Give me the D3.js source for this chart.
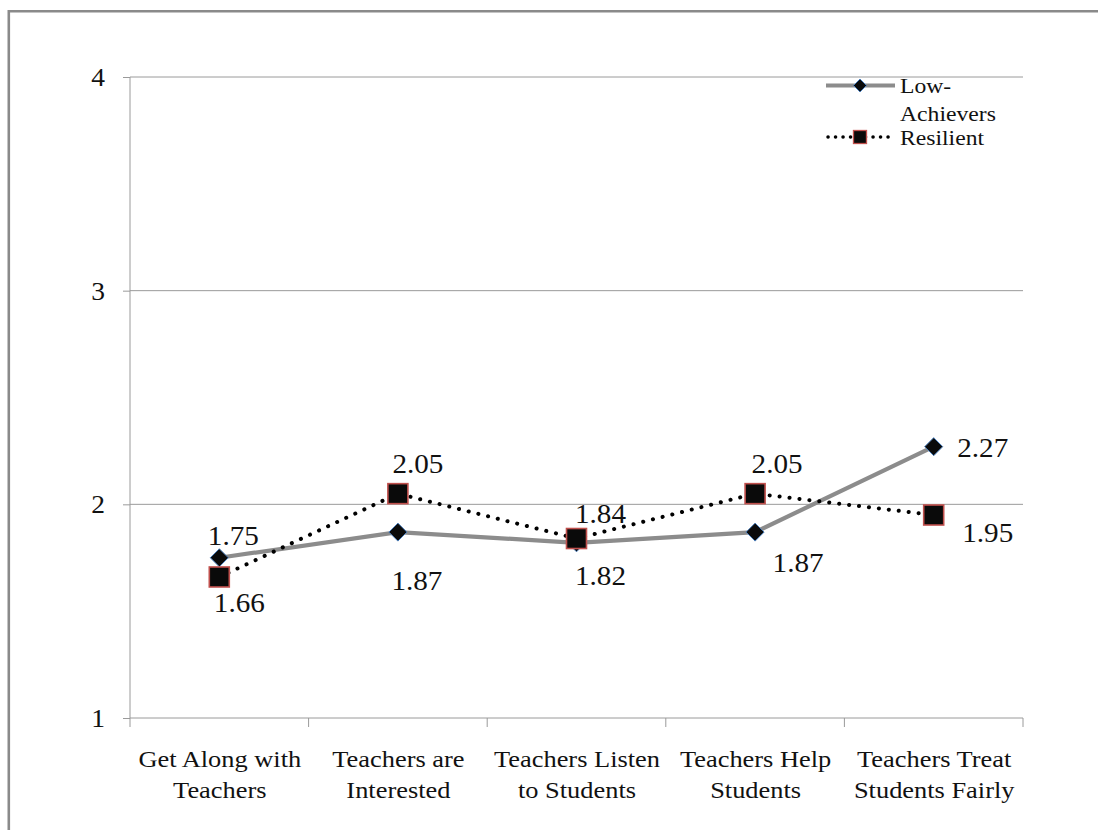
<!DOCTYPE html>
<html>
<head>
<meta charset="utf-8">
<script src="https://cdn.jsdelivr.net/npm/d3@7"></script>
<style>
  html, body { margin: 0; padding: 0; background: #fff; }
  svg { display: block; }
  text { font-family: "Liberation Serif", "Times New Roman", serif; fill: #111; }
</style>
</head>
<body>
<svg id="chart" width="1098" height="830"></svg>
<script>
// ---- data ----
const categories = [
  ["Get Along with", "Teachers"],
  ["Teachers are", "Interested"],
  ["Teachers Listen", "to Students"],
  ["Teachers Help", "Students"],
  ["Teachers Treat", "Students Fairly"]
];
const lowAchievers = [1.75, 1.87, 1.82, 1.87, 2.27];
const resilient = [1.66, 2.05, 1.84, 2.05, 1.95];
const yTicks = [1, 2, 3, 4];
const seriesNames = ["Low-Achievers", "Resilient"];

// ---- layout ----
const svg = d3.select("#chart");
const plot = { left: 130, right: 1023, top: 77, bottom: 718 };
const stretch = 1.1; // horizontal glyph stretch used for all text

// label placement relative to each marker [dx, dy]
const lowLabelOffset = [[14, -13], [19, 58], [24, 42], [43, 40], [49, 10]];
const resLabelOffset = [[20, 35], [20, -21], [24, -16], [22, -21], [54, 27]];

const x = d3.scalePoint()
  .domain(d3.range(categories.length))
  .range([plot.left, plot.right])
  .padding(0.5);
const band = (plot.right - plot.left) / categories.length;
const y = d3.scaleLinear().domain([1, 4]).range([plot.bottom, plot.top]);

// text helper: place text at (px, py) with a horizontal stretch
function label(parent, px, py, str, size, anchor) {
  return parent.append("text")
    .attr("transform", `translate(${px},${py}) scale(${stretch},1)`)
    .attr("text-anchor", anchor || "start")
    .attr("font-size", size)
    .text(str);
}

// outer frame (top and left edges)
svg.append("path")
  .attr("d", `M8.8,830 L8.8,11.3 L1098,11.3`)
  .attr("fill", "none")
  .attr("stroke", "#8a8a8a")
  .attr("stroke-width", 2.6);

// horizontal gridlines
svg.append("g")
  .selectAll("line")
  .data(yTicks.filter(d => d > 1))
  .join("line")
  .attr("x1", plot.left).attr("x2", plot.right)
  .attr("y1", d => y(d)).attr("y2", d => y(d))
  .attr("stroke", "#9a9a9a").attr("stroke-width", 1);

// y axis
const yAxis = d3.axisLeft(y).tickValues(yTicks).tickSize(7).tickFormat(() => "");
const gy = svg.append("g").attr("transform", `translate(${plot.left},0)`).call(yAxis);
gy.select(".domain").attr("stroke", "#9a9a9a").attr("d", `M0,${plot.bottom}V${plot.top}`);
gy.selectAll(".tick line").attr("stroke", "#9a9a9a");
const yLab = svg.append("g");
yTicks.forEach(t => label(yLab, 105, y(t) + 9, d3.format("d")(t), 25, "end"));

// x axis baseline with ticks at category boundaries
const bounds = d3.range(categories.length + 1).map(i => plot.left + i * band);
svg.append("line")
  .attr("x1", plot.left).attr("x2", plot.right)
  .attr("y1", plot.bottom).attr("y2", plot.bottom)
  .attr("stroke", "#9a9a9a");
svg.append("g").selectAll("line")
  .data(bounds)
  .join("line")
  .attr("x1", d => d).attr("x2", d => d)
  .attr("y1", plot.bottom).attr("y2", plot.bottom + 9)
  .attr("stroke", "#9a9a9a");

// category labels
const catG = svg.append("g");
categories.forEach((lines, i) => {
  lines.forEach((s, k) => label(catG, x(i) + 0.5, 767 + k * 31, s, 24, "middle"));
});

// series lines
const line = d3.line().x((d, i) => x(i)).y(d => y(d));

svg.append("path")
  .datum(lowAchievers)
  .attr("d", line)
  .attr("fill", "none")
  .attr("stroke", "#8c8c8c")
  .attr("stroke-width", 4.2);

svg.append("path")
  .datum(resilient)
  .attr("d", line)
  .attr("fill", "none")
  .attr("stroke", "#000")
  .attr("stroke-width", 4)
  .attr("stroke-linecap", "round")
  .attr("stroke-dasharray", "0.1 9.9");

// markers
const diamond = s => `M0,${-s} L${s},0 L0,${s} L${-s},0 Z`;

svg.append("g").selectAll("path")
  .data(lowAchievers)
  .join("path")
  .attr("transform", (d, i) => `translate(${x(i)},${y(d)})`)
  .attr("d", diamond(9))
  .attr("fill", "#0a0a0a")
  .attr("stroke", "#4a7ebb")
  .attr("stroke-width", 1);

svg.append("g").selectAll("rect")
  .data(resilient)
  .join("rect")
  .attr("x", (d, i) => x(i) - 10)
  .attr("y", d => y(d) - 10)
  .attr("width", 20).attr("height", 20)
  .attr("fill", "#0a0a0a")
  .attr("stroke", "#c0504d")
  .attr("stroke-width", 1.6);

// value labels
const fmt = d3.format(".2f");
function valueLabels(values, offsets) {
  const g = svg.append("g");
  values.forEach((v, i) => {
    label(g, x(i) + offsets[i][0], y(v) + offsets[i][1], fmt(v), 26.5, "middle");
  });
}
valueLabels(lowAchievers, lowLabelOffset);
valueLabels(resilient, resLabelOffset);

// legend
const lg = svg.append("g");
lg.append("line")
  .attr("x1", 826).attr("x2", 895).attr("y1", 85.5).attr("y2", 85.5)
  .attr("stroke", "#8c8c8c").attr("stroke-width", 4);
lg.append("path")
  .attr("transform", "translate(860,85.5)")
  .attr("d", diamond(6.5))
  .attr("fill", "#0a0a0a").attr("stroke", "#4a7ebb").attr("stroke-width", 1);
lg.append("line")
  .attr("x1", 828).attr("x2", 894).attr("y1", 137).attr("y2", 137)
  .attr("stroke", "#000").attr("stroke-width", 3.5)
  .attr("stroke-linecap", "round").attr("stroke-dasharray", "0.1 7.4");
lg.append("rect")
  .attr("x", 853.5).attr("y", 130.5).attr("width", 13).attr("height", 13)
  .attr("fill", "#0a0a0a").attr("stroke", "#c0504d").attr("stroke-width", 1.3);
label(lg, 900, 93, "Low-", 21.5);
label(lg, 900, 121, "Achievers", 21.5);
label(lg, 900, 145, seriesNames[1], 21.5);
</script>
</body>
</html>
